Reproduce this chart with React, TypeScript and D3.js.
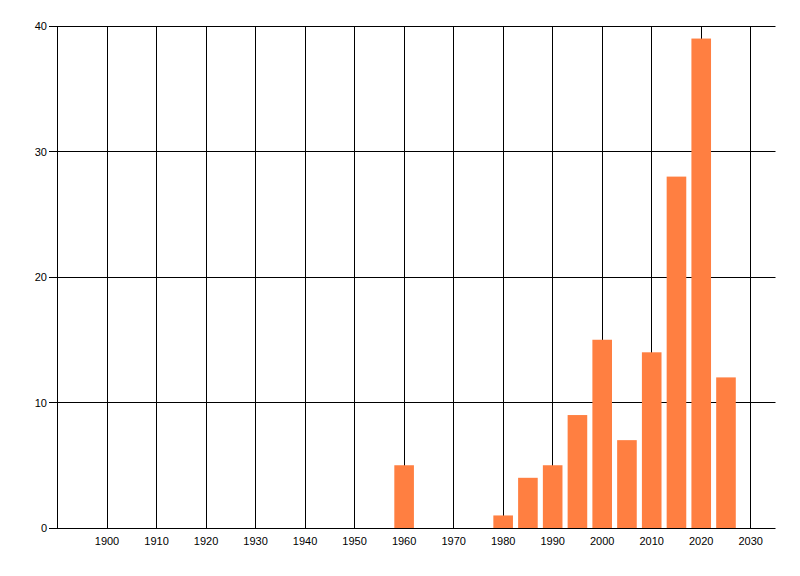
import { scaleLinear, range } from "d3";

const width = 800;
const height = 576;

const years = [1960, 1980, 1985, 1990, 1995, 2000, 2005, 2010, 2015, 2020, 2025];
const counts = [5, 1, 4, 5, 9, 15, 7, 14, 28, 39, 12];
const xTicks = range(1900, 2031, 10);
const yTicks = [0, 10, 20, 30, 40];

const left = 57.5;
const right = 775.5;
const top = 26;
const bottom = 528;

export default function App() {
  const x = scaleLinear().domain([1890, 2035]).range([left, right]);
  const y = scaleLinear().domain([0, 40]).range([bottom, top]);
  const barW = x(1894) - x(1890) - 0.2;
  const px = (v: number) => Math.floor(v) + 0.5;

  return (
    <svg
      width={width}
      height={height}
      style={{ position: "absolute", left: 0, top: 0, background: "#fff" }}
      fontFamily="'Liberation Sans', Arial, sans-serif"
      fontSize={11}
    >
      {/* vertical grid */}
      {xTicks.map((t) => (
        <line
          key={`vx${t}`}
          x1={px(x(t))}
          x2={px(x(t))}
          y1={top}
          y2={bottom}
          stroke="#000"
        />
      ))}
      {/* horizontal grid + ticks */}
      {yTicks.map((t) => (
        <line
          key={`hy${t}`}
          x1={49}
          x2={right}
          y1={px(y(t))}
          y2={px(y(t))}
          stroke="#000"
        />
      ))}
      <line x1={px(left)} x2={px(left)} y1={top} y2={bottom} stroke="#000" />

      {years.map((yr, i) => (
        <rect
          key={yr}
          x={x(yr) - barW / 2}
          y={y(counts[i])}
          width={barW}
          height={y(0) - y(counts[i])}
          fill="#FF7F41"
        />
      ))}

      {yTicks.map((t) => (
        <text
          key={`ly${t}`}
          x={47}
          y={y(t) + 4}
          textAnchor="end"
          fill="#000"
        >
          {t}
        </text>
      ))}
      {xTicks.map((t) => (
        <text key={`lx${t}`} x={x(t)} y={545} textAnchor="middle" fill="#000">
          {t}
        </text>
      ))}
    </svg>
  );
}
